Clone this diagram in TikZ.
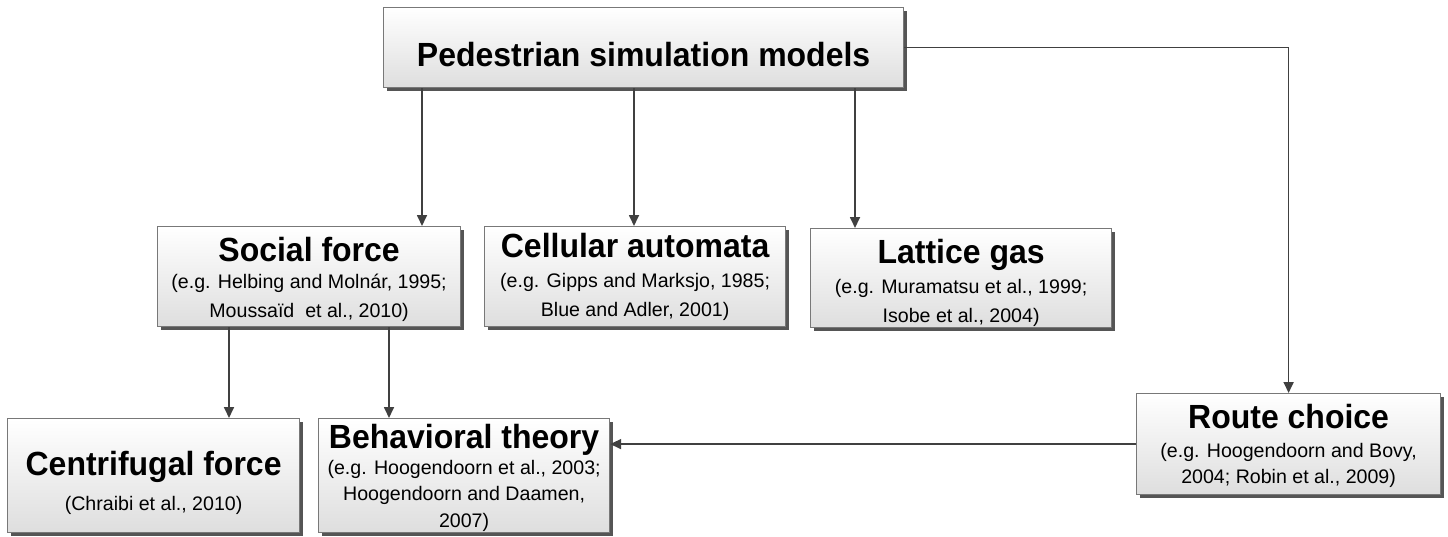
\documentclass[tikz,border=0pt]{standalone}
\usepackage{fontspec}
\setmainfont{Liberation Sans}
\newfontfamily\headfamily[FakeStretch=0.955]{Liberation Sans}
\usetikzlibrary{arrows.meta,shadows}
\definecolor{boxline}{RGB}{120,120,120}
\definecolor{boxbottom}{RGB}{222,222,222}
\definecolor{shadowgray}{RGB}{85,85,85}
\definecolor{linkgray}{RGB}{64,64,64}
\newcommand{\headfont}{\headfamily\fontsize{33.5}{36}\selectfont\bfseries}
\tikzset{
  box/.style={draw=boxline, line width=1.2pt, top color=white, bottom color=boxbottom,
    drop shadow={shadow xshift=3pt, shadow yshift=-3pt, fill=shadowgray, opacity=1},
    inner sep=0pt, anchor=north west},
  head/.style={anchor=base, inner sep=0pt, font=\headfont},
  % reference lines: first argument is the line spacing
  cite/.style={anchor=north, inner sep=0pt, align=center,
    font={\fontsize{19.6}{#1}\selectfont}},
  link/.style={draw=linkgray, line width=1.7pt, -{Triangle[length=11pt,width=10pt]}}
}
\begin{document}
\begin{tikzpicture}[x=1pt,y=-1pt]
\useasboundingbox (0,0) rectangle (1448,536);

% boxes
\node[box, minimum width=520pt, minimum height=80pt] (top) at (383,7) {};
\node[box, minimum width=303pt, minimum height=100pt] (social) at (157,226) {};
\node[box, minimum width=301pt, minimum height=100pt] (cell) at (484,226) {};
\node[box, minimum width=301pt, minimum height=99pt] (lattice) at (810,228) {};
\node[box, minimum width=292pt, minimum height=114pt] (centri) at (7,418) {};
\node[box, minimum width=291pt, minimum height=114pt] (behav) at (318,418) {};
\node[box, minimum width=304pt, minimum height=101pt] (route) at (1136,393) {};

% titles
\node[head] (top-t) at ([yshift=-59pt]top.north) {Pedestrian simulation models};
\node[head] (social-t) at ([yshift=-35pt]social.north) {Social force};
\node[head] (cell-t) at ([yshift=-31.3pt]cell.north) {Cellular automata};
\node[head] (lattice-t) at ([yshift=-35pt]lattice.north) {Lattice gas};
\node[head] (centri-t) at ([yshift=-57pt]centri.north) {Centrifugal force};
\node[head] (behav-t) at ([yshift=-30pt]behav.north) {Behavioral theory};
\node[head] (route-t) at ([yshift=-35pt]route.north) {Route choice};

% references
\node[cite=29] (social-r) at ([yshift=-41.7pt]social.north)
  {\strut(e.g. Helbing and Molnár, 1995;\\\strut Moussaïd\ \ et al., 2010)};
\node[cite=28.7] (cell-r) at ([yshift=-41.2pt]cell.north)
  {\strut(e.g. Gipps and Marksjo, 1985;\\\strut Blue and Adler, 2001)};
\node[cite=29] (lattice-r) at ([yshift=-44.7pt]lattice.north)
  {\strut(e.g. Muramatsu et al., 1999;\\\strut Isobe et al., 2004)};
\node[cite=28] (centri-r) at ([yshift=-73.1pt]centri.north)
  {\strut(Chraibi et al., 2010)};
\node[cite=26.5] (behav-r) at ([yshift=-37.4pt]behav.north)
  {\strut(e.g. Hoogendoorn et al., 2003;\\\strut Hoogendoorn and Daamen,\\\strut 2007)};
\node[cite=26] (route-r) at ([yshift=-45.8pt]route.north)
  {\strut(e.g. Hoogendoorn and Bovy,\\\strut 2004; Robin et al., 2009)};

% connectors
\draw[link] (422,0 |- top.south) -- (422,0 |- social.north);
\draw[link] (634,0 |- top.south) -- (634,0 |- cell.north);
\draw[link] (855,0 |- top.south) -- (855,0 |- lattice.north);
\draw[link] (top.east) -| (route.north);
\draw[link] (229,0 |- social.south) -- (229,0 |- centri.north);
\draw[link] (389,0 |- social.south) -- (389,0 |- behav.north);
\draw[link] (route.west) -- (route.west -| behav.east);
\end{tikzpicture}
\end{document}
